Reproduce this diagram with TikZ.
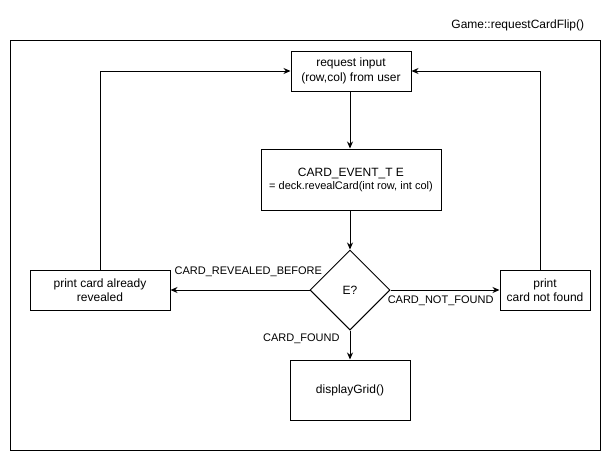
\documentclass[tikz,border=0pt]{standalone}
\usepackage{fontspec}
\setmainfont{Liberation Sans}
\usetikzlibrary{shapes.geometric,arrows.meta}

\begin{document}
\begin{tikzpicture}[x=1pt, y=-1pt, line width=1pt,
    stepbox/.style={draw, align=center, inner sep=2pt, font=\fontsize{12}{14.5}\selectfont},
    choicebox/.style={draw, diamond, aspect=1, minimum size=80pt, inner sep=0pt, font=\fontsize{12}{14.5}\selectfont},
    flow/.style={-{Stealth[length=7pt,width=6pt]}},
    edgelabel/.style={inner sep=0pt, font=\fontsize{11}{13}\selectfont}]
          \useasboundingbox (0,0) rectangle (611,461);

          % Frame
          \draw (10,40) rectangle (600,450);
          \node[anchor=east, font=\fontsize{12}{14}\selectfont] (title) at (588,25) {Game::requestCardFlip()};

          % Steps
          \node[stepbox, minimum width=120pt, minimum height=40pt] (request) at (351,71) {request input\\(row,col) from user};
          \node[stepbox, minimum width=180pt, minimum height=61pt] (reveal) at (351,179.5) {CARD\_EVENT\_T E\\[-1.5pt]{\fontsize{11}{12}\selectfont = deck.revealCard(int row, int col)}};
          \node[choicebox] (choice) at (350,290) {E?};
          \node[stepbox, minimum width=140pt, minimum height=40pt] (revealed) at (100,290) {print card already\\revealed};
          \node[stepbox, minimum width=90pt, minimum height=40pt] (notfound) at (545,290) {print\\card not found};
          \node[stepbox, minimum width=120pt, minimum height=60pt] (grid) at (350,390) {displayGrid()};

          % Arrows
          \draw[flow] (request.south -| choice.north) -- (reveal.north -| choice.north);
          \draw[flow] (reveal.south -| choice.north) -- (choice.north);
          \draw[flow] (choice.west) -- node[edgelabel, pos=0.44, yshift=18pt] {CARD\_REVEALED\_BEFORE} (revealed.east);
          \draw[flow] (choice.east) -- node[edgelabel, pos=0.46, yshift=-11pt] {CARD\_NOT\_FOUND} (notfound.west);
          \draw[flow] (choice.south) -- node[edgelabel, pos=0.3, left=10pt] {CARD\_FOUND} (grid.north);

          % Loops back
          \draw[flow] (revealed.north) |- (request.west);
          \draw[flow] ([xshift=-5pt]notfound.north) |- (request.east);
        \end{tikzpicture}
\end{document}
